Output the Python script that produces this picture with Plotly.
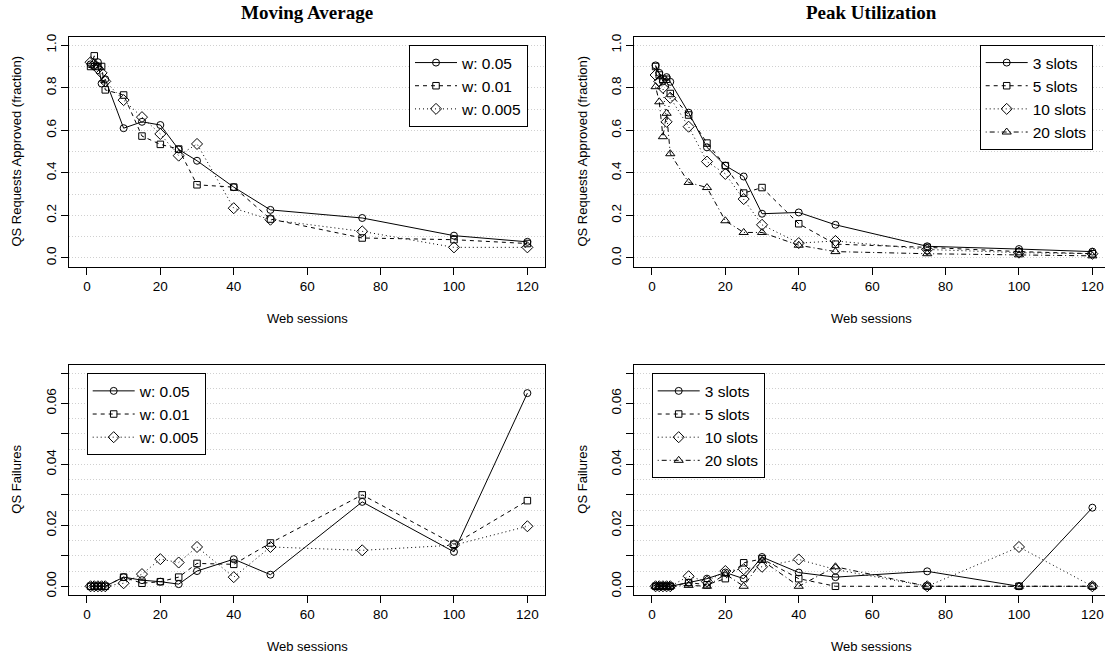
import plotly.graph_objects as go

# ---------------- data ----------------
sessions = [1, 2, 3, 4, 5, 10, 15, 20, 25, 30, 40, 50, 75, 100, 120]

ma_labels = ["w: 0.05", "w: 0.01", "w: 0.005"]
ma_appr_w05 = [0.91, 0.90, 0.92, 0.82, 0.84, 0.61, 0.64, 0.625, 0.51, 0.457, 0.333, 0.226, 0.188, 0.105, 0.076]
ma_appr_w01 = [0.90, 0.95, 0.90, 0.90, 0.79, 0.766, 0.573, 0.534, 0.512, 0.344, 0.333, 0.183, 0.094, 0.086, 0.068]
ma_appr_w005 = [0.92, 0.91, 0.89, 0.87, 0.83, 0.742, 0.662, 0.583, 0.481, 0.536, 0.234, 0.18, 0.125, 0.05, 0.05]

ma_fail_w05 = [0, 0, 0, 0, 0, 0.003, 0.002, 0.0015, 0.0007, 0.005, 0.0089, 0.0038, 0.0277, 0.0113, 0.0634]
ma_fail_w01 = [0, 0, 0, 0, 0, 0.003, 0.001, 0.0015, 0.003, 0.0075, 0.0072, 0.0142, 0.030, 0.0138, 0.0281]
ma_fail_w005 = [0, 0, 0, 0, 0, 0.001, 0.004, 0.0089, 0.0078, 0.0129, 0.003, 0.0129, 0.0118, 0.0135, 0.0197]

pu_labels = ["3 slots", "5 slots", "10 slots", "20 slots"]
pu_appr_3 = [0.905, 0.87, 0.83, 0.85, 0.828, 0.683, 0.52, 0.434, 0.383, 0.208, 0.214, 0.156, 0.055, 0.042, 0.03]
pu_appr_5 = [0.90, 0.86, 0.84, 0.84, 0.773, 0.672, 0.54, 0.434, 0.305, 0.331, 0.161, 0.065, 0.05, 0.03, 0.02]
pu_appr_10 = [0.86, 0.83, 0.80, 0.64, 0.753, 0.617, 0.453, 0.395, 0.277, 0.156, 0.07, 0.08, 0.04, 0.025, 0.02]
pu_appr_20 = [0.805, 0.734, 0.57, 0.68, 0.49, 0.355, 0.331, 0.175, 0.12, 0.12, 0.06, 0.03, 0.02, 0.015, 0.01]

pu_fail_3 = [0, 0, 0, 0, 0, 0.0012, 0.0025, 0.0045, 0.0025, 0.0096, 0.0045, 0.003, 0.0049, 0, 0.0258]
pu_fail_5 = [0, 0, 0, 0, 0, 0.0012, 0.0005, 0.0025, 0.0077, 0.009, 0.0025, 0, 0, 0, 0]
pu_fail_10 = [0, 0, 0, 0, 0, 0.0033, 0.0015, 0.005, 0.0056, 0.0064, 0.0088, 0.0055, 0, 0.0129, 0]
pu_fail_20 = [0, 0, 0, 0, 0, 0.0003, 0, 0.004, 0, 0.0085, 0, 0.0064, 0, 0, 0]

x_ticks = [0, 20, 40, 60, 80, 100, 120]
appr_ticks = [0.0, 0.2, 0.4, 0.6, 0.8, 1.0]
appr_ticktext = ["0.0", "0.2", "0.4", "0.6", "0.8", "1.0"]
fail_ticks = [0.0, 0.01, 0.02, 0.03, 0.04, 0.05, 0.06, 0.07]
fail_ticktext = ["0.00", "", "0.02", "", "0.04", "", "0.06", ""]

# ---------------- styles ----------------
dashes = ["solid", "4px,4px", "1px,3px", "1px,3px,5px,3px"]
symbols = ["circle-open", "square-open", "diamond-open", "triangle-up-open"]
sizes = [7, 6.5, 8.5, 8]

fig = go.Figure()

def add_series(ys, labels, xa, ya, legend):
    for i, (yv, lab) in enumerate(zip(ys, labels)):
        fig.add_trace(go.Scatter(
            x=sessions, y=yv, name=lab, mode="lines+markers",
            xaxis=xa, yaxis=ya, legend=legend, showlegend=True,
            line=dict(color="black", width=1, dash=dashes[i]),
            marker=dict(symbol=symbols[i], size=sizes[i], color="black",
                        line=dict(width=1, color="black")),
        ))

add_series([ma_appr_w05, ma_appr_w01, ma_appr_w005], ma_labels, "x", "y", "legend")
add_series([pu_appr_3, pu_appr_5, pu_appr_10, pu_appr_20], pu_labels, "x2", "y2", "legend2")
add_series([ma_fail_w05, ma_fail_w01, ma_fail_w005], ma_labels, "x3", "y3", "legend3")
add_series([pu_fail_3, pu_fail_5, pu_fail_10, pu_fail_20], pu_labels, "x4", "y4", "legend4")

W, H = 1105, 655
left_dom = [69.3 / W, 545.0 / W]
right_dom = [634.3 / W, 1.0]
top_dom = [1 - 266.5 / H, 1 - 36.7 / H]
bot_dom = [1 - 594.8 / H, 1 - 364.5 / H]

tickfont = dict(family="Liberation Sans", size=13.5, color="black")
grid = dict(gridcolor="#d0d0d0", griddash="1px,2px", gridwidth=1)

def xaxis(dom, anchor, rng, mirror=True):
    return dict(domain=dom, anchor=anchor, range=rng, tickvals=x_ticks,
                ticks="outside", ticklen=7, tickwidth=1, tickcolor="black",
                showline=True, linecolor="black", linewidth=1, mirror=mirror,
                showgrid=False, zeroline=False, tickfont=tickfont, automargin=False)

def yaxis(dom, anchor, rng, tv, tt, minor_dt, mirror=True):
    return dict(domain=dom, anchor=anchor, range=rng, tickvals=tv, ticktext=tt,
                tickangle=-90, ticks="outside", ticklen=7, tickwidth=1, tickcolor="black",
                showline=True, linecolor="black", linewidth=1, mirror=mirror,
                showgrid=True, zeroline=False, tickfont=tickfont, automargin=False,
                minor=dict(tick0=0, dtick=minor_dt, showgrid=True, ticks="", **grid),
                **grid)

left_rng = [-4.8, 124.8]
right_rng = [-4.8, -4.8 + (W - 634.3) / ((545.0 - 69.3) / 129.6)]

fig.update_layout(
    width=W, height=H, autosize=False,
    margin=dict(l=0, r=0, t=0, b=0, autoexpand=False),
    paper_bgcolor="white", plot_bgcolor="white",
    xaxis=xaxis(left_dom, "y", left_rng),
    yaxis=yaxis(top_dom, "x", [-0.04, 1.04], appr_ticks, appr_ticktext, 0.1),
    xaxis2=xaxis(right_dom, "y2", right_rng),
    yaxis2=yaxis(top_dom, "x2", [-0.04, 1.04], appr_ticks, appr_ticktext, 0.1, mirror=False),
    xaxis3=xaxis(left_dom, "y3", left_rng),
    yaxis3=yaxis(bot_dom, "x3", [-0.0028, 0.0728], fail_ticks, fail_ticktext, 0.005),
    xaxis4=xaxis(right_dom, "y4", right_rng),
    yaxis4=yaxis(bot_dom, "x4", [-0.0028, 0.0728], fail_ticks, fail_ticktext, 0.005, mirror=False),
)

leg_common = dict(bordercolor="black", borderwidth=1, bgcolor="white",
                  font=dict(family="Liberation Sans", size=15.5, color="black"),
                  tracegroupgap=0, itemwidth=42, itemclick=False)
fig.update_layout(
    legend=dict(x=528 / W, y=1 - 45 / H, xanchor="right", yanchor="top", **leg_common),
    legend2=dict(x=1092.7 / W, y=1 - 45 / H, xanchor="right", yanchor="top", **leg_common),
    legend3=dict(x=86.7 / W, y=1 - 373.3 / H, xanchor="left", yanchor="top", **leg_common),
    legend4=dict(x=651.7 / W, y=1 - 373.3 / H, xanchor="left", yanchor="top", **leg_common),
)

# titles and axis titles
ann = []
title_font = dict(family="Liberation Serif", size=19, color="black")
label_font = dict(family="Liberation Sans", size=13, color="black")
lc = (left_dom[0] + left_dom[1]) / 2
rc = (634.3 + 1109.3) / 2 / W
ann.append(dict(text="<b>Moving Average</b>", x=lc, y=1 - 12 / H, font=title_font))
ann.append(dict(text="<b>Peak Utilization</b>", x=rc, y=1 - 12 / H, font=title_font))
for cx in (lc, rc):
    ann.append(dict(text="Web sessions", x=cx, y=1 - 318 / H, font=label_font))
    ann.append(dict(text="Web sessions", x=cx, y=1 - 646 / H, font=label_font))
for px in (17, 583):
    ann.append(dict(text="QS Requests Approved (fraction)", x=px / W,
                    y=sum(top_dom) / 2, textangle=-90, font=label_font))
    ann.append(dict(text="QS Failures", x=px / W,
                    y=sum(bot_dom) / 2, textangle=-90, font=label_font))
for a in ann:
    a.update(xref="paper", yref="paper", showarrow=False, xanchor="center", yanchor="middle")
fig.update_layout(annotations=ann)

fig.write_html(
    "out.html",
    config={"displayModeBar": False},
    post_script="document.body.style.margin='0';document.body.style.overflow='hidden';",
)
